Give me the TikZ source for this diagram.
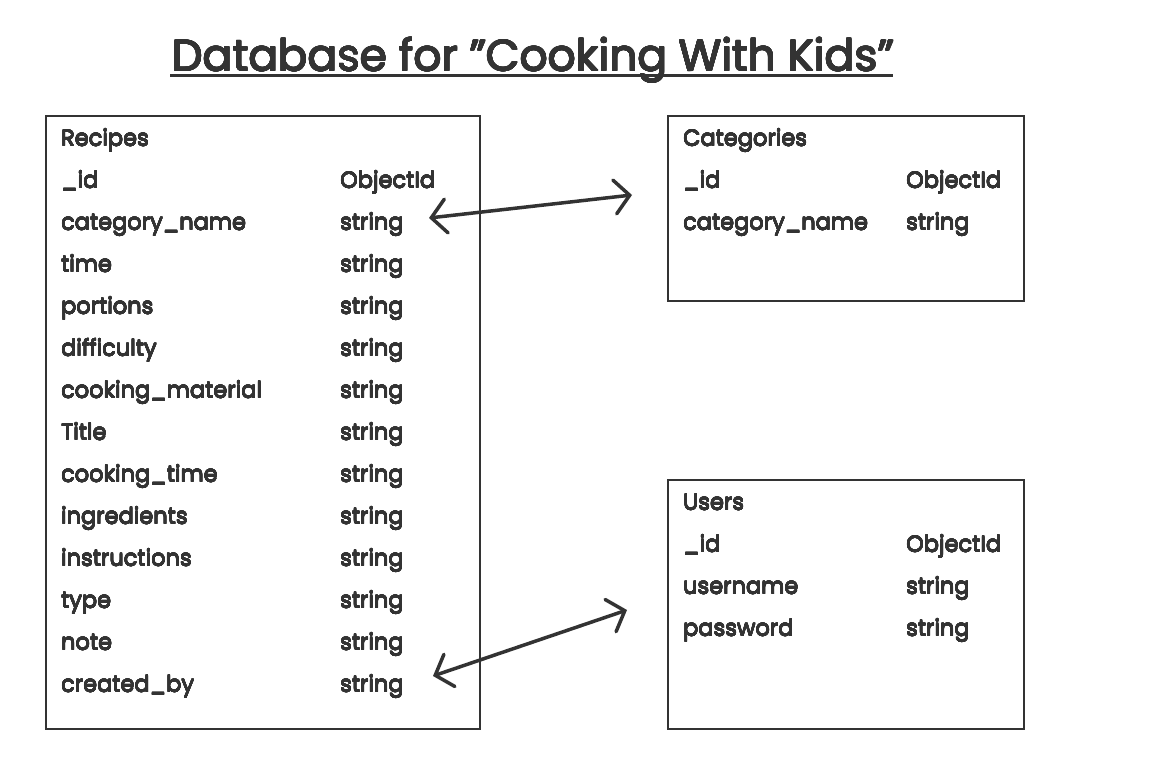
\documentclass[tikz,border=0pt]{standalone}
\usepackage{fontspec}
\setmainfont{Poppins}
\usepackage{contour}
\contournumber{16}
\usetikzlibrary{arrows.meta}
\definecolor{ink}{HTML}{333333}
\newcommand{\bt}[1]{\contourlength{0.2pt}\contour{ink}{#1}}
\newcommand{\btt}[1]{\contourlength{0.45pt}\contour{ink}{#1}}
\begin{document}
\begin{tikzpicture}[x=1pt,y=-1pt,
  tbl/.style={draw=ink, line width=1.8pt, inner sep=0pt, anchor=north west},
  fld/.style={anchor=base west, inner sep=0pt, text=ink, font=\fontsize{22.5}{26}\selectfont},
  ttl/.style={anchor=base west, inner sep=0pt, text=ink, font=\fontsize{43.8}{50}\selectfont},
  rel/.style={draw=ink, line width=3.5pt, line cap=round, {Straight Barb[length=15pt,width=34pt,line cap=round]}-{Straight Barb[length=15pt,width=34pt,line cap=round]}}]
\useasboundingbox (0,0) rectangle (1170,760);
\fill[white] (0,0) rectangle (1170,760);
% title
\node[ttl] (title) at (172,71) {\btt{Database for ”Cooking With Kids”}};
\coordinate (ulA) at (170,75.5);
\coordinate (ulB) at (893,75.5);
\draw[ink, line width=2.5pt] (ulA) -- (ulB);
% boxes
\node[tbl, minimum width=434pt, minimum height=613pt] (recipes) at (45,115) {};
\node[tbl, minimum width=356pt, minimum height=185pt] (categories) at (667,115) {};
\node[tbl, minimum width=356pt, minimum height=249pt] (users) at (667,479) {};
% Recipes rows
\node[fld] (rhead) at (61,146) {\bt{Recipes}};
\foreach \n/\t/\ty [count=\i] in {rid/\_id/ObjectId, rcat/category\_name/string, rtime/time/string, rport/portions/string, rdiff/difficulty/string, rmat/cooking\_material/string, rtitle/Title/string, rctime/cooking\_time/string, ring/ingredients/string, rinst/instructions/string, rtype/type/string, rnote/note/string, rby/created\_by/string}{
  \node[fld] (\n) at (61,146+42*\i) {\bt{\t}};
  \node[fld] (\n-t) at (340,146+42*\i) {\bt{\ty}};
}
% Categories rows
\node[fld] (chead) at (683,146) {\bt{Categories}};
\node[fld] (cid) at (683,188) {\bt{\_id}};
\node[fld] (cid-t) at (906,188) {\bt{ObjectId}};
\node[fld] (ccat) at (683,230) {\bt{category\_name}};
\node[fld] (ccat-t) at (906,230) {\bt{string}};
% Users rows
\node[fld] (uhead) at (683,510) {\bt{Users}};
\node[fld] (uid) at (683,552) {\bt{\_id}};
\node[fld] (uid-t) at (906,552) {\bt{ObjectId}};
\node[fld] (uname) at (683,594) {\bt{username}};
\node[fld] (uname-t) at (906,594) {\bt{string}};
\node[fld] (upass) at (683,636) {\bt{password}};
\node[fld] (upass-t) at (906,636) {\bt{string}};
% relations
\coordinate (a1s) at (429,218);
\coordinate (a1e) at (632,195);
\draw[rel] (a1s) -- (a1e);
\coordinate (a2s) at (433,676);
\coordinate (a2e) at (627,610);
\draw[rel] (a2s) -- (a2e);
\end{tikzpicture}
\end{document}
